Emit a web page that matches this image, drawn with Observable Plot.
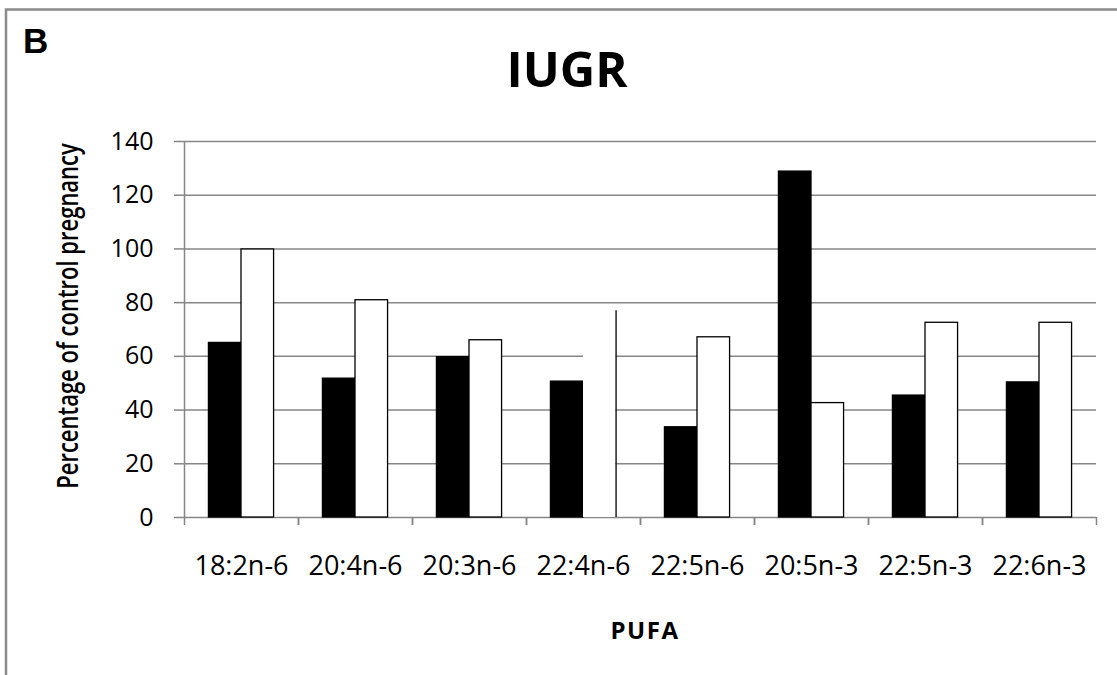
<!DOCTYPE html>
<html><head><meta charset="utf-8">
<script src="https://cdn.jsdelivr.net/npm/d3@7"></script>
<script src="https://cdn.jsdelivr.net/npm/@observablehq/plot@0.6"></script>
<style>
html,body{margin:0;padding:0;background:#fff;}
#wrap{position:relative;width:1117px;height:675px;overflow:hidden;background:#fff;}
#wrap > svg{position:absolute;left:0;top:0;}
</style></head><body><div id="wrap"></div>
<script>
// ---- data ----
const categories = ["18:2n-6","20:4n-6","20:3n-6","22:4n-6","22:5n-6","20:5n-3","22:5n-3","22:6n-3"];
const seriesNames = ["Series 1","Series 2"];
const blackValues = [65, 51.7, 59.7, 50.6, 33.6, 128.8, 45.4, 50.3];
const whiteValues = [99.8, 80.9, 66, 77, 67.1, 42.6, 72.5, 72.5];
const yTicks = [0,20,40,60,80,100,120,140];
const outlineOnlyRight = "22:4n-6"; // white bar drawn with only its right edge in the original
const panelLetter = "B";
const chartTitle = "IUGR";
const xTitle = "PUFA";
const yTitle = "Percentage of control pregnancy";

const rows = categories.flatMap((cat,k)=>[
  {cat, s:0, series:seriesNames[0], v:blackValues[k]},
  {cat, s:1, series:seriesNames[1], v:whiteValues[k]}
]);
const plain = rows.filter(d=>!(d.cat===outlineOnlyRight && d.s===1));
const partial = rows.filter(d=>d.cat===outlineOnlyRight && d.s===1);
const grey = "#868686";

const chart = Plot.plot({
  width:1117, height:675,
  marginLeft:183, marginRight:21, marginTop:141, marginBottom:158,
  style:{fontFamily:"'Open Sans', sans-serif", color:"#000", background:"transparent", overflow:"visible"},
  fx:{domain:categories, padding:0, axis:null},
  x:{domain:[-0.75,2.75], axis:null},
  y:{domain:[0,140], axis:null},
  marks:[
    Plot.gridY(yTicks,{stroke:grey, strokeOpacity:1, strokeWidth:1.5}),
    Plot.rectY(plain,{fx:"cat", x1:"s", x2:d=>d.s+1, y1:0, y2:"v",
      fill:d=>d.s===0?"#000":"#fff", stroke:"#000", strokeWidth:1.3}),
    Plot.rectY(partial,{fx:"cat", x1:"s", x2:d=>d.s+1, y1:0, y2:"v", fill:"#fff"}),
    Plot.ruleX(partial,{fx:"cat", x:d=>d.s+1, y1:0, y2:"v", stroke:"#000", strokeWidth:1.3}),
    Plot.ruleX([categories[0]],{fx:d=>d, x:-0.75, y1:0, y2:140, stroke:grey, strokeWidth:1.5}),
    Plot.axisX({ticks:[-0.75,2.75], tickSize:8, tickFormat:()=>"", stroke:grey, strokeWidth:1.5, label:null}),
    Plot.axisY({ticks:yTicks, tickSize:10, tickPadding:21, fontSize:25, stroke:grey, strokeWidth:1.5, fill:"#000", label:null}),
    Plot.axisFx({anchor:"bottom", tickSize:0, tickPadding:38, fontSize:27, fill:"#000", label:null})
  ]
});
const wrap = document.getElementById("wrap");
wrap.appendChild(chart);

// ---- overlay texts and frame ----
const ov = d3.select(wrap).append("svg").attr("width",1117).attr("height",675);
ov.append("path").attr("d","M6,675V9.5H1117").attr("fill","none").attr("stroke","#8a8a8a").attr("stroke-width",2.5);
ov.append("text").attr("x",23).attr("y",53).attr("font-family","'Liberation Sans', Arial, sans-serif")
  .attr("font-weight","bold").attr("font-size",35).text(panelLetter);
ov.append("text").attr("x",567).attr("y",87).attr("text-anchor","middle").attr("font-family","'Open Sans', sans-serif")
  .attr("font-weight","bold").attr("font-size",49).text(chartTitle);
ov.append("text").attr("x",645).attr("y",639).attr("text-anchor","middle").attr("font-family","'Open Sans', sans-serif")
  .attr("font-weight","bold").attr("font-size",24).attr("letter-spacing","1.5px").text(xTitle);
ov.append("text").attr("transform","translate(78,316) rotate(-90) scale(1,1.3)").attr("text-anchor","middle")
  .attr("font-family","'Open Sans', sans-serif").attr("font-weight","600").attr("font-size",22).text(yTitle);
</script></body></html>
